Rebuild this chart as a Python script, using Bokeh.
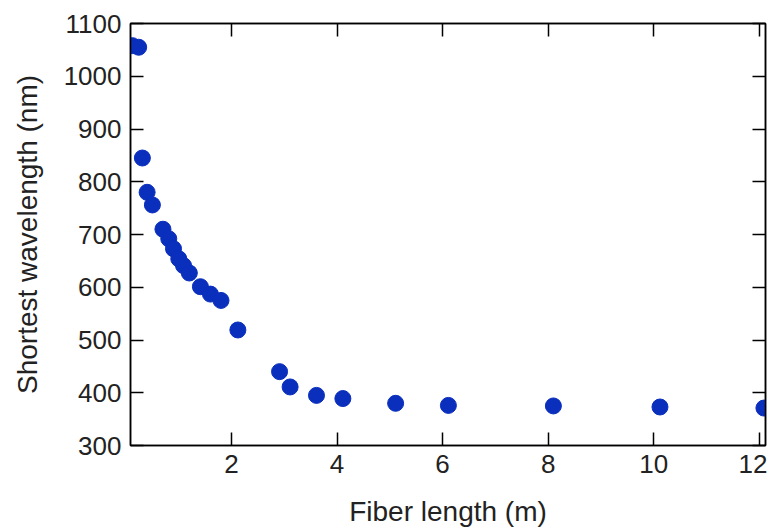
from bokeh.plotting import figure
from bokeh.models import LinearAxis, FixedTicker, Range1d, CustomLabelingPolicy
from bokeh.embed import file_html
from bokeh.resources import INLINE

# Data
fiber_length_m = [0.12, 0.24, 0.31, 0.40, 0.50, 0.70, 0.81, 0.90, 1.00, 1.09, 1.20,
                  1.41, 1.60, 1.80, 2.12, 2.91, 3.11, 3.61, 4.11, 5.11, 6.11, 8.10,
                  10.12, 12.09]
shortest_wavelength_nm = [1058, 1055, 845, 780, 756, 710, 692, 673, 654, 641, 627,
                          601, 587, 575, 519, 440, 411, 395, 389, 380, 376, 375,
                          373, 371]
x_ticks = [2, 4, 6, 8, 10, 12]
y_ticks = [300, 400, 500, 600, 700, 800, 900, 1000, 1100]

FONT = "Liberation Sans"

p = figure(width=767, height=529, output_backend="svg", toolbar_location=None,
           x_range=Range1d(0.085, 12.12), y_range=Range1d(300, 1100),
           min_border_left=130, min_border_right=2, min_border_top=23,
           min_border_bottom=10)
p.background_fill_color = "white"
p.border_fill_color = "white"
p.outline_line_color = "black"
p.outline_line_width = 1.5
p.grid.visible = False

no_labels = CustomLabelingPolicy(code="""
const all = [...indices]
for (const i of all) indices.unset(i)
return indices
""")

def style_axis(ax, labels=True):
    ax.axis_line_color = "black"
    ax.axis_line_width = 1.5
    ax.major_tick_in = 13
    ax.major_tick_out = 0
    ax.major_tick_line_color = "black"
    ax.major_tick_line_width = 1.5
    ax.minor_tick_line_color = None
    if labels:
        ax.major_label_text_font = FONT
        ax.major_label_text_font_size = "26px"
        ax.major_label_text_color = "#222222"
        ax.major_label_standoff = 9
        ax.axis_label_text_font = FONT
        ax.axis_label_text_font_size = "28px"
        ax.axis_label_text_font_style = "normal"
        ax.axis_label_text_color = "#222222"
        ax.axis_label_standoff = 18
    else:
        ax.major_label_policy = no_labels
        ax.major_label_text_font_size = "0px"
        ax.major_label_standoff = 0

p.xaxis.ticker = FixedTicker(ticks=x_ticks)
p.yaxis.ticker = FixedTicker(ticks=y_ticks)
p.xaxis.axis_label = "Fiber length (m)"
p.yaxis.axis_label = "Shortest wavelength (nm)"
style_axis(p.xaxis[0])
style_axis(p.yaxis[0])
p.xaxis[0].axis_label_standoff = 20

top = LinearAxis(ticker=FixedTicker(ticks=x_ticks))
right = LinearAxis(ticker=FixedTicker(ticks=y_ticks))
style_axis(top, labels=False)
style_axis(right, labels=False)
p.add_layout(top, "above")
p.add_layout(right, "right")

p.scatter(fiber_length_m, shortest_wavelength_nm, size=16,
          fill_color="#0a2fbd", line_color="#0a2fbd", line_width=1)

open("out.html", "w").write(file_html(p, INLINE))
